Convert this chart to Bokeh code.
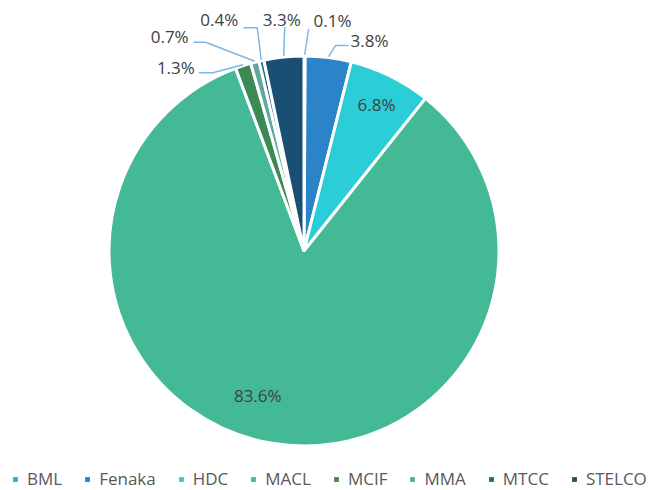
import math
from bokeh.plotting import figure
from bokeh.models import Range1d, ColumnDataSource, Legend, LegendItem
from bokeh.core.properties import value
from bokeh.embed import file_html
from bokeh.resources import INLINE

# ---- data ----
categories = ["BML", "Fenaka", "HDC", "MACL", "MCIF", "MMA", "MTCC", "STELCO"]
shares = [0.1, 3.8, 6.8, 83.6, 1.3, 0.7, 0.4, 3.3]
colors = ["#29a9e1", "#2a84c7", "#2bcdd7", "#44b996", "#3b8a55", "#5fa89d", "#1d6b8b", "#1a4f74"]

# ---- layout (page pixels) ----
W, H = 654, 490
OX, OY = 0, 0
def X(px):
    return px - OX
def Y(py):
    return H + OY - py

CX, CY, R = X(303.5), Y(250.5), 195.0

# label style per slice: ("in", radius factor, angle shift deg) or
# ("out", elbow dx, elbow dy, horizontal len, label dx, label dy, align)
label_layout = {
    "BML":    ("out", 4, -26, 0, 5, -9, "left"),
    "Fenaka": ("out", 7, -11, 13, 2, -5, "left"),
    "HDC":    ("in", 0.84, 0.0),
    "MACL":   ("in", 0.78, 8.7),
    "MCIF":   ("out", -30, 8, -14, -4, -5.5, "right"),
    "MMA":    ("out", -49, -19, -12, -5, -6, "right"),
    "MTCC":   ("out", -4, -32, -14, -5, -8, "right"),
    "STELCO": ("out", 1, -29, 0, -3, -8, "center"),
}

p = figure(width=W, height=H, x_range=Range1d(0, W), y_range=Range1d(0, H),
           output_backend="svg", toolbar_location=None, min_border=0)
p.axis.visible = False
p.grid.visible = False
p.outline_line_color = None
p.background_fill_color = "white"
p.border_fill_color = "white"

total = sum(shares)
starts, ends, mids = [], [], []
cum = 0.0
for s in shares:
    a0 = math.pi / 2 - 2 * math.pi * cum / total
    cum += s
    a1 = math.pi / 2 - 2 * math.pi * cum / total
    starts.append(a0)
    ends.append(a1)
    mids.append((a0 + a1) / 2)

src = ColumnDataSource(dict(cat=categories, share=shares, color=colors,
                            start=starts, end=ends))
p.wedge(x=CX, y=CY, radius=R, start_angle="start", end_angle="end", direction="clock",
        fill_color="color", line_color="white", line_width=3, source=src)

# labels and leader lines
lx, ly, lt, la = [], [], [], []
xs, ys = [], []
for cat, s, m in zip(categories, shares, mids):
    spec = label_layout[cat]
    txt = f"{s:.1f}%"
    if spec[0] == "in":
        rf, shift = spec[1], math.radians(spec[2])
        a = m - shift
        lx.append(CX + R * rf * math.cos(a))
        ly.append(CY + R * rf * math.sin(a))
        lt.append(txt)
        la.append("center")
    else:
        _, ex, ey, h, tx, ty, al = spec
        sx = CX + (R + 1) * math.cos(m)
        sy = CY + (R + 1) * math.sin(m)
        exx, eyy = sx + ex, sy - ey
        endx, endy = exx + h, eyy
        xs.append([sx, exx, endx])
        ys.append([sy, eyy, endy])
        lx.append(endx + tx)
        ly.append(endy - ty)
        lt.append(txt)
        la.append(al)

p.multi_line(xs=xs, ys=ys, line_color="#7bb7e8", line_width=1.5)
p.text(x=lx, y=ly, text=lt, text_align=la, text_baseline="middle",
       text_font=value("Open Sans"), text_font_size="17px", text_color="#404040")

# legend (swatch-only renderers, nothing visible in the plot area)
nan = float("nan")
items = []
for cat, col in zip(categories, colors):
    r = p.quad(left=[nan], right=[nan], top=[nan], bottom=[nan], fill_color=col, line_color=None)
    items.append(LegendItem(label=cat, renderers=[r]))
legend = Legend(items=items, location=(12, 0), orientation="horizontal",
                label_text_font="Open Sans", label_text_font_size="17px",
                label_text_color="#595959", glyph_width=6, glyph_height=6,
                label_standoff=9, spacing=22, padding=0, margin=0,
                label_height=14, border_line_color=None, background_fill_alpha=0)
p.add_layout(legend)

open("out.html", "w").write(file_html(p, INLINE))
